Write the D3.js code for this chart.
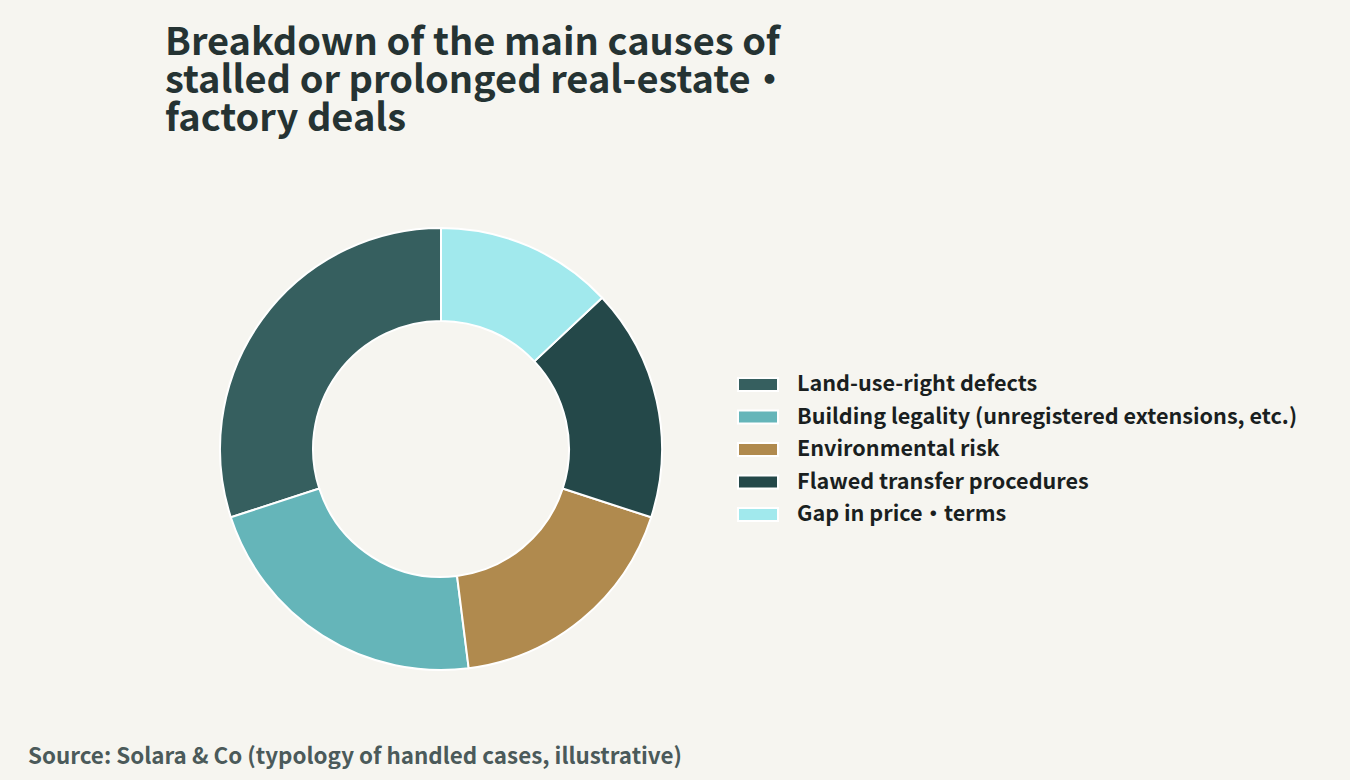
<!DOCTYPE html>
<html>
<head>
<meta charset="utf-8">
<script src="https://cdn.jsdelivr.net/npm/d3@7"></script>
<style>
  html, body { margin: 0; padding: 0; background: #f6f5f0; }
  svg { display: block; }
  text { font-family: "Noto Sans CJK JP", "Noto Sans", sans-serif; }
</style>
</head>
<body>
<svg id="chart"></svg>
<script>
const categories = [
  "Land-use-right defects",
  "Building legality (unregistered extensions, etc.)",
  "Environmental risk",
  "Flawed transfer procedures",
  "Gap in price・terms"
];
const shares = [30, 22, 18, 17, 13];
const colors = ["#365f5f", "#65b5b9", "#b08a4e", "#244849", "#a1e9ed"];
const titleLines = [
  "Breakdown of the main causes of",
  "stalled or prolonged real-estate・",
  "factory deals"
];
const sourceText = "Source: Solara & Co (typology of handled cases, illustrative)";

const width = 1350, height = 780;
const cx = 441, cy = 449, outerR = 221, innerR = 128;

const svg = d3.select("#chart")
  .attr("width", width)
  .attr("height", height);

svg.append("rect")
  .attr("width", width)
  .attr("height", height)
  .attr("fill", "#f6f5f0");

// title
svg.append("text")
  .attr("x", 165)
  .attr("y", 54.5)
  .attr("font-size", 38)
  .attr("font-weight", 700)
  .attr("fill", "#253333")
  .selectAll("tspan")
  .data(titleLines)
  .join("tspan")
  .attr("x", 165)
  .attr("dy", (d, i) => i === 0 ? 0 : 38)
  .text(d => d);

// donut, counter-clockwise from 12 o'clock
const color = d3.scaleOrdinal().domain(categories).range(colors);
const rows = categories.map((c, i) => ({ name: c, value: shares[i] }));

const pie = d3.pie()
  .sort(null)
  .value(d => d.value)
  .startAngle(0)
  .endAngle(-2 * Math.PI);

const arc = d3.arc().innerRadius(innerR).outerRadius(outerR);

svg.append("g")
  .attr("transform", `translate(${cx},${cy})`)
  .selectAll("path")
  .data(pie(rows))
  .join("path")
  .attr("d", arc)
  .attr("fill", d => color(d.data.name))
  .attr("stroke", "#ffffff")
  .attr("stroke-width", 2);

// legend
const legend = svg.append("g").attr("transform", "translate(738,384.5)");
const item = legend.selectAll("g")
  .data(categories)
  .join("g")
  .attr("transform", (d, i) => `translate(0,${i * 32.5})`);

item.append("rect")
  .attr("x", 0)
  .attr("y", -6.5)
  .attr("width", 40)
  .attr("height", 13)
  .attr("fill", d => color(d))
  .attr("stroke", "#ffffff")
  .attr("stroke-width", 2);

item.append("text")
  .attr("x", 59)
  .attr("y", 6.5)
  .attr("font-size", 21.6)
  .attr("font-weight", 700)
  .attr("fill", "#1a1f1f")
  .text(d => d);

// source
svg.append("text")
  .attr("x", 28)
  .attr("y", 764)
  .attr("font-size", 22.4)
  .attr("font-weight", 700)
  .attr("fill", "#4b5a5a")
  .text(sourceText);
</script>
</body>
</html>
